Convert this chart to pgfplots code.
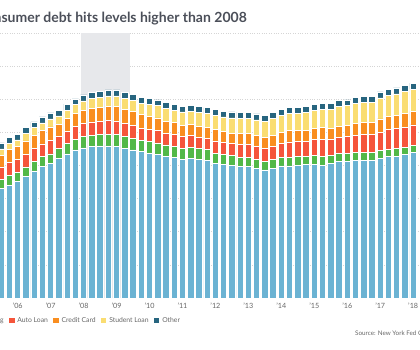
\documentclass[border=0pt]{standalone}
\usepackage{fontspec}
\setmainfont{Lato}
\usepackage{pgfplots}
\pgfplotsset{compat=1.18}
\usepackage{pgfplotstable}
\definecolor{cmort}{HTML}{6BB3D3}
\definecolor{cherev}{HTML}{52B848}
\definecolor{cauto}{HTML}{F5553B}
\definecolor{ccard}{HTML}{F98E20}
\definecolor{cstud}{HTML}{FADD72}
\definecolor{cother}{HTML}{27657F}
\definecolor{recgray}{HTML}{E7E8EB}
\definecolor{titlec}{HTML}{4B4F59}
\definecolor{textc}{HTML}{666666}
\definecolor{gridc}{HTML}{D5D5D5}
\pgfplotstableread{
q M H A C S O
1 6.64 0.54 0.73 0.72 0.37 0.36
2 6.82 0.57 0.77 0.79 0.37 0.36
3 7.02 0.58 0.75 0.78 0.41 0.36
4 7.32 0.59 0.78 0.79 0.43 0.36
5 7.67 0.60 0.77 0.78 0.45 0.36
6 7.93 0.60 0.77 0.81 0.46 0.36
7 8.10 0.60 0.80 0.83 0.48 0.36
8 8.40 0.61 0.73 0.75 0.50 0.36
9 8.70 0.63 0.74 0.76 0.52 0.36
10 8.94 0.65 0.77 0.78 0.52 0.36
11 9.06 0.67 0.80 0.79 0.58 0.36
12 9.14 0.68 0.81 0.83 0.58 0.36
13 9.18 0.69 0.80 0.82 0.61 0.36
14 9.18 0.71 0.81 0.87 0.63 0.36
15 9.14 0.71 0.82 0.88 0.65 0.36
16 9.04 0.71 0.78 0.85 0.66 0.36
17 8.94 0.71 0.78 0.81 0.68 0.36
18 8.83 0.70 0.73 0.80 0.70 0.36
19 8.74 0.69 0.75 0.80 0.72 0.36
20 8.68 0.68 0.75 0.76 0.73 0.36
21 8.57 0.67 0.71 0.72 0.76 0.36
22 8.50 0.66 0.70 0.72 0.77 0.36
23 8.38 0.65 0.71 0.69 0.80 0.36
24 8.44 0.64 0.71 0.69 0.81 0.36
25 8.38 0.63 0.69 0.66 0.83 0.36
26 8.33 0.62 0.69 0.66 0.83 0.36
27 8.13 0.61 0.74 0.70 0.86 0.36
28 8.07 0.60 0.73 0.67 0.86 0.36
29 8.03 0.59 0.71 0.63 0.91 0.36
30 7.93 0.58 0.76 0.66 0.92 0.36
31 7.93 0.57 0.76 0.65 0.94 0.36
32 7.83 0.56 0.77 0.65 0.94 0.36
33 7.73 0.54 0.78 0.62 0.98 0.36
34 7.83 0.53 0.80 0.64 1.03 0.36
35 7.97 0.53 0.85 0.64 1.05 0.36
36 7.97 0.53 0.92 0.68 1.06 0.36
37 8.01 0.52 0.90 0.66 1.07 0.36
38 8.05 0.52 0.88 0.64 1.10 0.36
39 8.09 0.51 0.95 0.67 1.13 0.36
40 8.03 0.51 1.02 0.71 1.13 0.36
41 8.13 0.50 0.97 0.66 1.14 0.36
42 8.23 0.49 0.98 0.68 1.17 0.36
43 8.23 0.49 1.01 0.67 1.20 0.36
44 8.29 0.48 1.07 0.72 1.20 0.36
45 8.29 0.48 1.09 0.72 1.22 0.36
46 8.33 0.47 1.06 0.72 1.24 0.36
47 8.44 0.46 1.12 0.79 1.27 0.36
48 8.53 0.46 1.17 0.81 1.27 0.36
49 8.57 0.45 1.20 0.81 1.29 0.36
50 8.64 0.45 1.21 0.85 1.31 0.36
51 8.77 0.44 1.24 0.82 1.34 0.36
}\debt
\pgfplotsset{
  common/.style={at={(0pt,52pt)}, anchor=south west, width=420pt, height=265pt,
    scale only axis, xmin=0.854, xmax=51.83, ymin=0, ymax=16},
  legimg/.style={legend image code/.code={\fill[##1] (0pt,-3pt) rectangle (6.3pt,3.3pt);}},
  segs/.style={draw=white, line width=0.8pt},
}
\begin{document}
\begin{tikzpicture}[x=1pt,y=1pt]
\useasboundingbox (0,0) rectangle (420,350);
\clip (0,0) rectangle (420,350);
\begin{axis}[common,
  axis line style={draw=none}, tick style={draw=none},
  ytick={2,4,...,16}, yticklabels={}, ymajorgrids,
  grid style={gridc, dotted, line width=0.7pt},
  xtick={3,7,...,51},
  xticklabels={’06,’07,’08,’09,’10,’11,’12,’13,’14,’15,’16,’17,’18},
  xticklabel style={font=\fontsize{7.2}{8}\selectfont, text=textc, anchor=base, yshift=-11pt, inner sep=0pt},
]
\addplot[fill=recgray, draw=none] coordinates {(10.7,16) (16.6,16)} \closedcycle;
\end{axis}
\begin{axis}[common, hide axis, ybar stacked, bar width=6.4pt,
  legend columns=6,
  legend style={at={(axis description cs:0.4333,-0.0849)}, anchor=east,
    draw=none, fill=none, inner sep=0pt, outer sep=0pt,
    nodes={inner sep=2pt, font=\fontsize{6.8}{8}\selectfont, text=textc},
    /tikz/every even column/.append style={column sep=2.5pt}},
]
\addplot[fill=cmort, segs, legimg] table[x=q,y=M]{\debt};
\addplot[fill=cherev, segs, legimg] table[x=q,y=H]{\debt};
\addplot[fill=cauto, segs, legimg] table[x=q,y=A]{\debt};
\addplot[fill=ccard, segs, legimg] table[x=q,y=C]{\debt};
\addplot[fill=cstud, segs, legimg] table[x=q,y=S]{\debt};
\addplot[fill=cother, segs, legimg] table[x=q,y=O]{\debt};
\legend{Mortgage, HE Revolving, Auto Loan, Credit Card, Student Loan, Other}
\end{axis}
\node[anchor=base east, font=\bfseries\fontsize{14}{16}\selectfont, text=titlec, inner sep=0pt] at (247,327.3) {Consumer debt hits levels higher than 2008};
\node[anchor=base west, font=\fontsize{6.3}{8}\selectfont, text=textc, inner sep=0pt] at (355,14.5) {Source: New York Fed Consumer Credit Panel/Equifax};
\end{tikzpicture}
\end{document}
